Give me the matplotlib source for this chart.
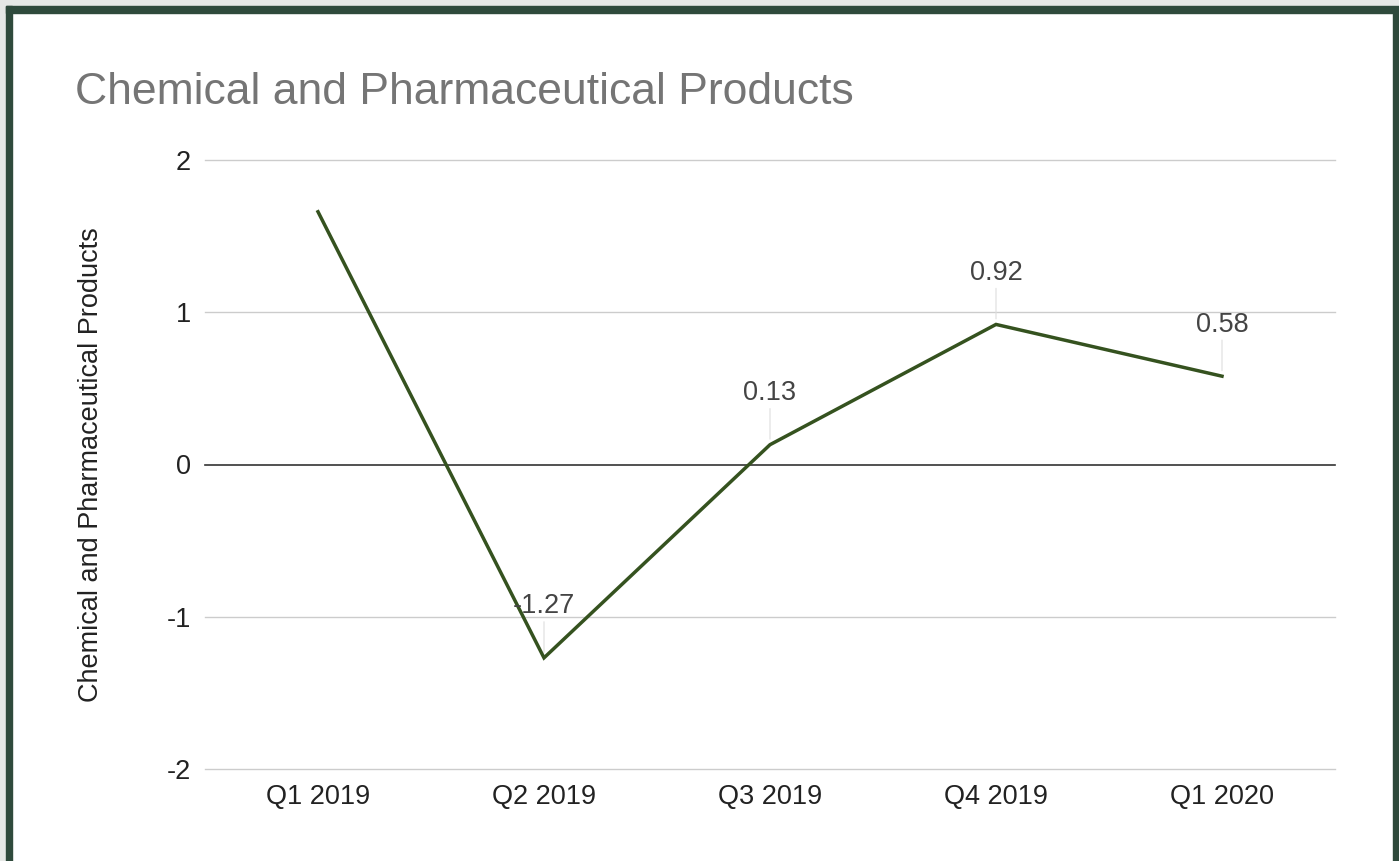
import matplotlib.pyplot as plt
from matplotlib.patches import Rectangle

plt.rcParams['font.family'] = ['Liberation Sans', 'DejaVu Sans']

quarters = ['Q1 2019', 'Q2 2019', 'Q3 2019', 'Q4 2019', 'Q1 2020']
values = [1.66, -1.27, 0.13, 0.92, 0.58]
labelled = [False, True, True, True, True]
y_ticks = [-2, -1, 0, 1, 2]

W, H = 1399, 861
fig = plt.figure(figsize=(W / 100, H / 100), dpi=100)
fig.patch.set_facecolor('white')

# frame: light outer strip, dark green border on top/left/right
outer = '#e6e8e6'
green = '#2f4a3c'
fig.add_artist(Rectangle((0, 0), 6 / W, 1, transform=fig.transFigure, color=outer, zorder=0))
fig.add_artist(Rectangle((0, 1 - 6 / H), 1, 6 / H, transform=fig.transFigure, color=outer, zorder=0))
fig.add_artist(Rectangle((6 / W, 0), 6 / W, 1 - 6 / H, transform=fig.transFigure, color=green, zorder=0))
fig.add_artist(Rectangle((6 / W, 1 - 13 / H), 1 - 6 / W, 7 / H, transform=fig.transFigure, color=green, zorder=0))
fig.add_artist(Rectangle((1 - 6 / W, 0), 6 / W, 1 - 13 / H, transform=fig.transFigure, color=green, zorder=0))

# plot area in pixels: x 205..1335, y 160 (=2) .. 769 (=-2)
left, right, top, bottom = 205, 1335, 160, 769
ax = fig.add_axes([left / W, 1 - bottom / H, (right - left) / W, (bottom - top) / H])
ax.set_facecolor('white')

x = list(range(len(quarters)))
ax.set_xlim(-0.5, len(quarters) - 0.5)
ax.set_ylim(-2, 2)

for t in y_ticks:
    if t == 0:
        ax.axhline(t, color='#333333', lw=1.2, zorder=1, clip_on=False)
    else:
        ax.axhline(t, color='#cccccc', lw=1.0, zorder=1, clip_on=False)

ax.plot(x, values, color='#35521f', lw=2.5, zorder=3, solid_joinstyle='miter')

for xi, v, show in zip(x, values, labelled):
    if not show:
        continue
    ax.annotate(f'{v:.2f}', xy=(xi, v), xytext=(0, 37), textcoords='offset points',
                ha='center', va='center', fontsize=19.5, color='#444444', zorder=4)
    ax.annotate('', xy=(xi, v), xytext=(0, 26), textcoords='offset points',
                arrowprops=dict(arrowstyle='-', color='#dddddd', lw=0.8,
                                shrinkA=0, shrinkB=4), zorder=2)

ax.set_xticks(x)
ax.set_xticklabels(quarters)
ax.set_yticks(y_ticks)
ax.set_yticklabels([str(t) for t in y_ticks])
ax.tick_params(axis='both', length=0, labelsize=19.5, colors='#222222')
ax.tick_params(axis='x', pad=11)
ax.tick_params(axis='y', pad=10)
for s in ax.spines.values():
    s.set_visible(False)

ax.set_ylabel('Chemical and Pharmaceutical Products', fontsize=19.5, color='#222222', labelpad=45)

fig.text(75 / W, 1 - 93 / H, 'Chemical and Pharmaceutical Products', fontsize=32,
         color='#757575', ha='left', va='center')

fig.savefig('out.png', dpi=100, facecolor='white')
